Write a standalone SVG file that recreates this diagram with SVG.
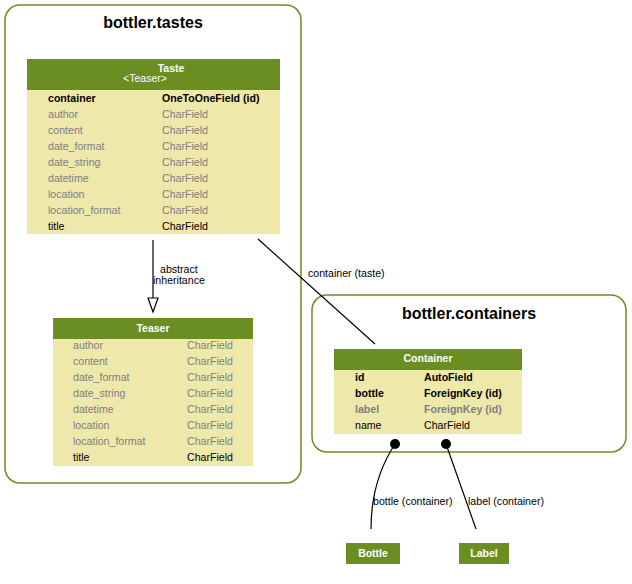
<svg xmlns="http://www.w3.org/2000/svg" width="632" height="584" viewBox="0 0 632 584">
<style>
text{font-family:"Liberation Sans",Arial,sans-serif;}
.cl{fill:#fff;stroke:#6b8e23;stroke-width:1.5;}
.ct{font-size:16px;font-weight:bold;text-anchor:middle;fill:#000;}
.hd{fill:#6b8e23;}
.bd{fill:#eee8aa;}
.ht{font-size:10.5px;font-weight:bold;fill:#fff;text-anchor:middle;}
.hs{font-size:10.5px;fill:#fff;text-anchor:middle;}
.f{font-size:10.6px;fill:#000;}
.b{font-weight:bold;}
.g{fill:#7f7f7f;}
.e{fill:none;stroke:#000;stroke-width:1.2;}
.el{font-size:10.6px;fill:#000;}
</style>
<rect width="632" height="584" fill="#fff"/>
<g id="cluster_tastes">
<rect class="cl" x="5" y="5" width="296" height="478" rx="15"/>
<text class="ct" x="153" y="28">bottler.tastes</text>
</g>
<g id="cluster_containers">
<rect class="cl" x="312" y="295" width="314" height="157" rx="15"/>
<text class="ct" x="469" y="319">bottler.containers</text>
</g>
<g id="node_Taste">
<rect class="hd" x="27" y="59" width="253" height="31"/>
<rect class="bd" x="27" y="90" width="253" height="144"/>
<text class="ht" x="171" y="72">Taste</text>
<text class="hs" x="145" y="82">&lt;Teaser&gt;</text>
<text class="f b" x="48" y="102">container</text><text class="f b" x="162" y="102">OneToOneField (id)</text>
<text class="f g" x="48" y="118">author</text><text class="f g" x="162" y="118">CharField</text>
<text class="f g" x="48" y="134">content</text><text class="f g" x="162" y="134">CharField</text>
<text class="f g" x="48" y="150">date_format</text><text class="f g" x="162" y="150">CharField</text>
<text class="f g" x="48" y="166">date_string</text><text class="f g" x="162" y="166">CharField</text>
<text class="f g" x="48" y="182">datetime</text><text class="f g" x="162" y="182">CharField</text>
<text class="f g" x="48" y="198">location</text><text class="f g" x="162" y="198">CharField</text>
<text class="f g" x="48" y="214">location_format</text><text class="f g" x="162" y="214">CharField</text>
<text class="f" x="48" y="230">title</text><text class="f" x="162" y="230">CharField</text>
</g>
<g id="node_Teaser">
<rect class="hd" x="53" y="318" width="200" height="21"/>
<rect class="bd" x="53" y="339" width="200" height="127"/>
<text class="ht" x="153" y="332">Teaser</text>
<text class="f g" x="73" y="349">author</text><text class="f g" x="187" y="349">CharField</text>
<text class="f g" x="73" y="365">content</text><text class="f g" x="187" y="365">CharField</text>
<text class="f g" x="73" y="381">date_format</text><text class="f g" x="187" y="381">CharField</text>
<text class="f g" x="73" y="397">date_string</text><text class="f g" x="187" y="397">CharField</text>
<text class="f g" x="73" y="413">datetime</text><text class="f g" x="187" y="413">CharField</text>
<text class="f g" x="73" y="429">location</text><text class="f g" x="187" y="429">CharField</text>
<text class="f g" x="73" y="445">location_format</text><text class="f g" x="187" y="445">CharField</text>
<text class="f" x="73" y="461">title</text><text class="f" x="187" y="461">CharField</text>
</g>
<g id="node_Container">
<rect class="hd" x="334" y="349" width="188" height="21"/>
<rect class="bd" x="334" y="370" width="188" height="64"/>
<text class="ht" x="428" y="362">Container</text>
<text class="f b" x="355" y="381">id</text><text class="f b" x="424" y="381">AutoField</text>
<text class="f b" x="355" y="397">bottle</text><text class="f b" x="424" y="397">ForeignKey (id)</text>
<text class="f b g" x="355" y="413">label</text><text class="f b g" x="424" y="413">ForeignKey (id)</text>
<text class="f" x="355" y="429">name</text><text class="f" x="424" y="429">CharField</text>
</g>
<g id="node_Bottle">
<rect class="hd" x="346" y="543" width="54" height="21"/>
<text class="ht" x="373" y="557">Bottle</text>
</g>
<g id="node_Label">
<rect class="hd" x="459" y="543" width="50" height="21"/>
<text class="ht" x="484" y="557">Label</text>
</g>
<g id="edges">
<path class="e" d="M153,240 L153,298"/>
<polygon points="148,298 158,298 153,312" fill="#fff" stroke="#000" stroke-width="1.2"/>
<text class="el" x="160" y="273">abstract</text>
<text class="el" x="153" y="284">inheritance</text>
<path class="e" d="M258,239 L375,344"/>
<text class="el" x="308" y="277">container (taste)</text>
<path class="e" d="M371,529 C371,500 378,470 395,444"/>
<circle cx="395" cy="444" r="5" fill="#000"/>
<text class="el" x="373" y="505">bottle (container)</text>
<path class="e" d="M476,529 L446,444"/>
<circle cx="446" cy="444" r="5" fill="#000"/>
<text class="el" x="468" y="505">label (container)</text>
</g>
</svg>
